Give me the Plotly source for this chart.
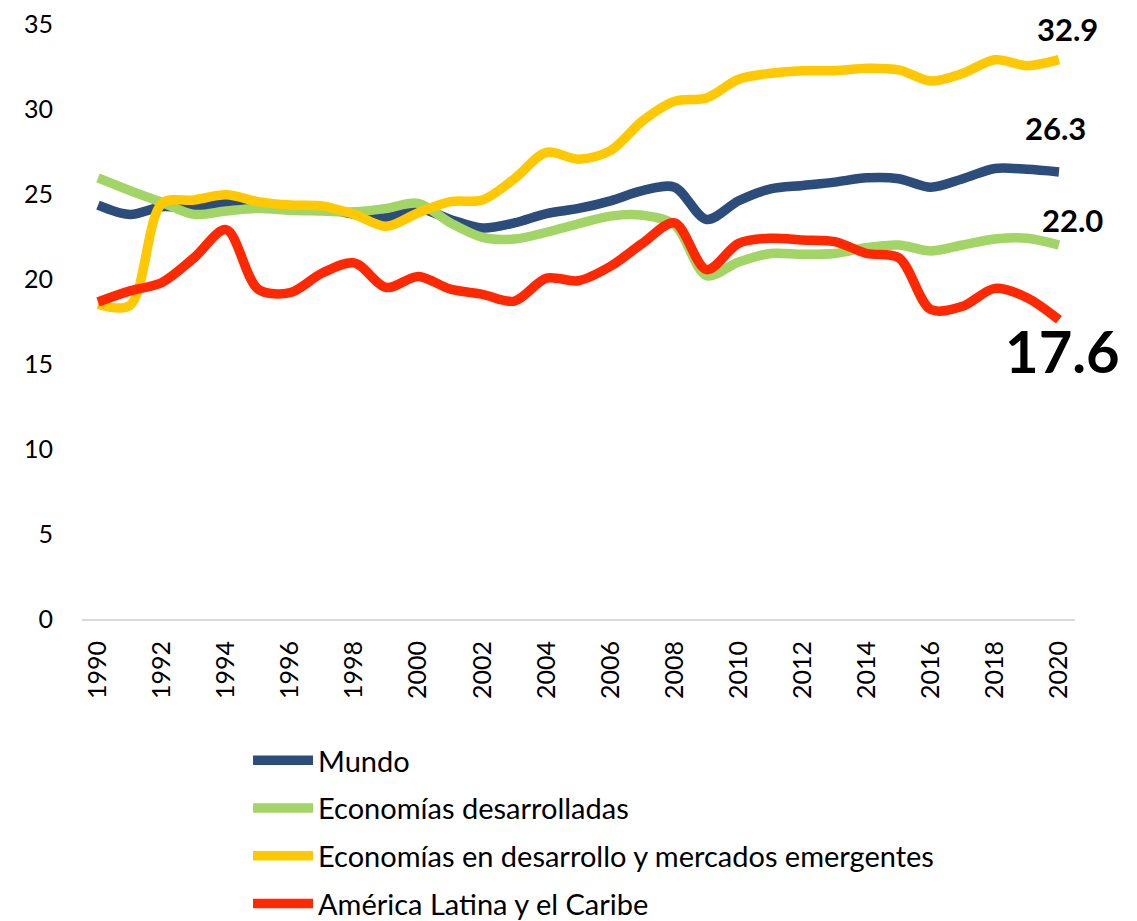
import plotly.graph_objects as go

years = list(range(1990, 2021))
tick_years = list(range(1990, 2021, 2))

mundo = [24.35, 23.8, 24.25, 24.15, 24.45, 24.4, 24.3, 24.2, 23.8, 23.6,
         24.15, 23.5, 23.0, 23.3, 23.85, 24.15, 24.6, 25.2, 25.4, 23.5,
         24.6, 25.3, 25.5, 25.7, 25.95, 25.9, 25.4, 25.9, 26.5, 26.45, 26.3]
desarrolladas = [25.95, 25.2, 24.5, 23.8, 24.0, 24.15, 24.05, 24.0, 23.95, 24.15,
                 24.45, 23.3, 22.45, 22.35, 22.75, 23.25, 23.7, 23.75, 23.2, 20.2,
                 21.0, 21.5, 21.45, 21.5, 21.85, 22.0, 21.65, 22.0, 22.35, 22.4, 22.0]
emergentes = [18.5, 18.45, 24.45, 24.65, 24.95, 24.55, 24.35, 24.3, 23.8, 23.1,
              23.9, 24.55, 24.65, 25.9, 27.45, 27.05, 27.55, 29.3, 30.45, 30.65,
              31.75, 32.1, 32.25, 32.25, 32.4, 32.3, 31.65, 32.1, 32.9, 32.55, 32.9]
alc = [18.65, 19.3, 19.8, 21.25, 22.9, 19.4, 19.2, 20.35, 20.95, 19.5,
       20.15, 19.4, 19.1, 18.7, 20.05, 19.9, 20.75, 22.1, 23.3, 20.55,
       22.1, 22.4, 22.3, 22.2, 21.5, 21.25, 18.2, 18.4, 19.45, 18.9, 17.6]

names = ["Mundo", "Economías desarrolladas",
         "Economías en desarrollo y mercados emergentes", "América Latina y el Caribe"]
colors = ["#2C4C7C", "#A2D566", "#FFC800", "#FF2800"]
series = [mundo, desarrolladas, emergentes, alc]

# end-label styling: (xshift, yshift, font size)
label_style = [(-3, 44, 31), (14, 25, 31), (9, 31, 31), (4, -31, 58)]

fig = go.Figure()
for i, (nm, col, vals) in enumerate(zip(names, colors, series)):
    fig.add_trace(go.Scatter(
        x=years, y=vals, name=nm, mode="lines",
        line=dict(color=col, width=9.5, shape="spline", smoothing=0.9),
        legendgroup=f"g{i}", cliponaxis=False,
    ))

for (nm, vals, (xs, ys, fs)) in zip(names, series, label_style):
    fig.add_annotation(
        x=years[-1], y=vals[-1], xref="x", yref="y",
        text=f"<b>{vals[-1]:.1f}</b>", showarrow=False,
        xshift=xs, yshift=ys,
        font=dict(family="Lato", size=fs, color="black"),
    )

fig.update_layout(
    width=1137, height=921,
    margin=dict(l=74, r=70, t=16, b=310, autoexpand=False),
    plot_bgcolor="white", paper_bgcolor="white",
    font=dict(family="Lato", size=24, color="black"),
    showlegend=True,
    legend=dict(
        orientation="v", xref="container", yref="container",
        x=0.2111, xanchor="left", y=0.2107, yanchor="top",
        font=dict(family="Lato", size=29, color="black"),
        tracegroupgap=7, itemwidth=60, bgcolor="rgba(0,0,0,0)",
    ),
)
fig.update_xaxes(
    range=[1989.5, 2020.5], tickmode="array", tickvals=tick_years,
    ticktext=[str(y) for y in tick_years], tickangle=-90,
    showgrid=False, zeroline=False, showline=True, linecolor="#D9D9D9",
    linewidth=2, ticks="", ticklabelstandoff=10, automargin=False,
    ticklabeloverflow="allow",
    tickfont=dict(family="Lato", size=25, color="black"),
)
fig.update_yaxes(
    range=[0, 35], tickmode="array", tickvals=[0, 5, 10, 15, 20, 25, 30, 35],
    showgrid=False, zeroline=False, showline=False, ticks="",
    ticklabelstandoff=28, automargin=False, ticklabeloverflow="allow",
    tickfont=dict(family="Lato", size=25, color="black"),
)

fig.write_html("out.html")
